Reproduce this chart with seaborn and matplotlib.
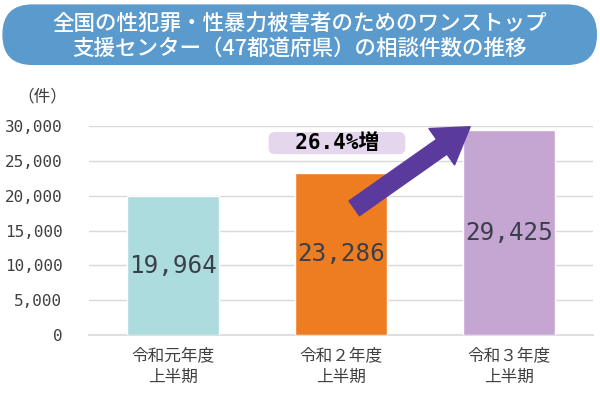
import matplotlib
matplotlib.use("Agg")
import matplotlib.pyplot as plt
import seaborn as sns
import pandas as pd
from matplotlib.patches import FancyBboxPatch

# data
periods = ["令和元年度\n上半期", "令和２年度\n上半期", "令和３年度\n上半期"]
counts = [19964, 23286, 29425]
bar_colors = ["#acdcdd", "#ee7d22", "#c5a5d2"]
yticks = [0, 5000, 10000, 15000, 20000, 25000, 30000]
increase_label = "26.4%増"
title = "全国の性犯罪・性暴力被害者のためのワンストップ\n支援センター（47都道府県）の相談件数の推移"

sns.set_theme(style="white")
plt.rcParams['font.family'] = ['Noto Sans CJK JP', 'DejaVu Sans']

df = pd.DataFrame({"period": periods, "count": counts})

fig = plt.figure(figsize=(6, 3.99), dpi=100)
ax = fig.add_axes([0.148, 0.160, 0.84, 0.524])

sns.barplot(data=df, x="period", y="count", hue="period", palette=bar_colors,
            width=0.55, saturation=1, legend=False, ax=ax, zorder=3)

ax.set_ylim(0, 30000)
ax.set_xlim(-0.5, 2.5)
ax.set_yticks(yticks)
ax.set_yticklabels([f"{v:,}" for v in yticks], fontsize=11.5, color="#404040",
                   family=['DejaVu Sans Mono'])
ax.tick_params(axis="y", length=0, pad=19)
ax.tick_params(axis="x", length=0, pad=9)
for lab in ax.get_xticklabels():
    lab.set_fontsize(12)
    lab.set_color("#404040")
    lab.set_linespacing(1.35)
ax.set_xlabel("")
ax.set_ylabel("")
ax.grid(axis="y", color="#d9d9d9", linewidth=1, zorder=0)
for s in ["top", "right", "left"]:
    ax.spines[s].set_visible(False)
ax.spines["bottom"].set_color("#d9d9d9")
ax.spines["bottom"].set_linewidth(1.2)

# value labels in bars
for i, v in enumerate(counts):
    ax.text(i, v / 2, f"{v:,}", ha="center", va="center", fontsize=17.5,
            color="#3a3f4a", family=['DejaVu Sans Mono'], zorder=4)

# unit
fig.text(0.07, 0.757, "（件）", fontsize=12, color="#404040", ha="center", va="center")

# increase label and arrow
ax.text(0.977, 27560, "  " + increase_label + "  ", ha="center", va="center",
        fontsize=15, fontweight="bold", color="black", zorder=5,
        family=['DejaVu Sans Mono', 'Noto Sans CJK JP'],
        bbox=dict(boxstyle="round,pad=0.05,rounding_size=0.3", fc="#e4d6ec", ec="none"))
ax.annotate("", xy=(1.77, 29900), xytext=(1.08, 18200),
            arrowprops=dict(arrowstyle="simple,head_length=1.25,head_width=1.6,tail_width=0.65",
                            color="#5b3a9e", mutation_scale=20, shrinkA=0, shrinkB=0),
            annotation_clip=False, zorder=6)

# title banner
banner = FancyBboxPatch((0.004, 0.837), 0.991, 0.152,
                        boxstyle="round,pad=0,rounding_size=0.05",
                        transform=fig.transFigure, fc="#5a9acd", ec="none",
                        mutation_aspect=600 / 399)
fig.patches.append(banner)
fig.text(0.5, 0.909, title, ha="center", va="center", fontsize=15.5,
         fontweight="medium", color="white", linespacing=1.2)

fig.savefig("out.png", dpi=100)
